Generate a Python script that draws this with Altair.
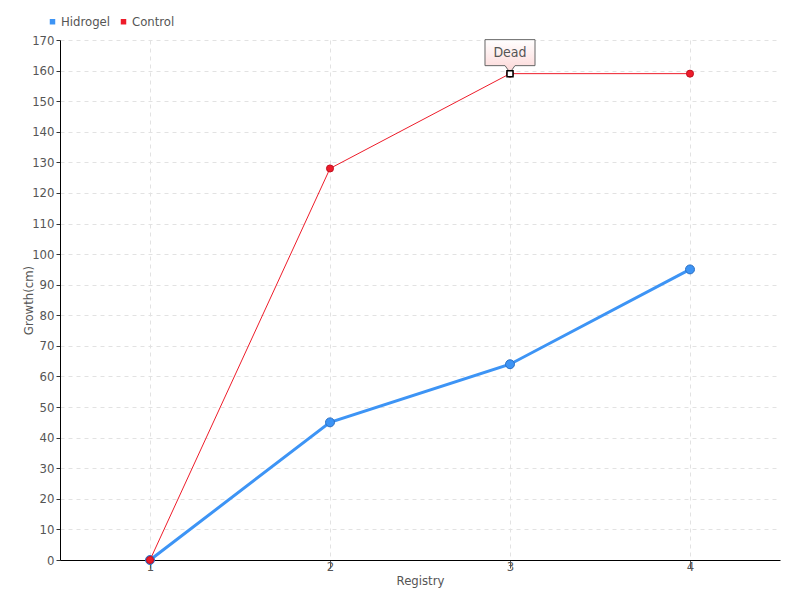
import altair as alt
import pandas as pd

registry = [1, 2, 3, 4]
hidrogel = [0, 45, 64, 95]
control = [0, 128, 159, 159]
series_names = ["Hidrogel", "Control"]
colors = ["#3d94f5", "#ee1c2a"]
y_ticks = list(range(0, 171, 10))
annotation_text = "Dead"
annotation_index = 2

rows = []
for r, v in zip(registry, hidrogel):
    rows.append({"Registry": r, "Growth": v, "Series": "Hidrogel"})
for r, v in zip(registry, control):
    rows.append({"Registry": r, "Growth": v, "Series": "Control"})
df = pd.DataFrame(rows)
ann = pd.DataFrame([{"Registry": registry[annotation_index], "Growth": control[annotation_index], "label": annotation_text}])

FONT = "DejaVu Sans Condensed, Roboto, sans-serif"
x = alt.X("Registry:Q", scale=alt.Scale(domain=[0.5, 4.5], nice=False, zero=False),
          axis=alt.Axis(values=registry, title="Registry", format="d", grid=True,
                        gridColor="#e2e2e2", gridDash=[4, 4], tickSize=8, tickColor="#555",
                        domainColor="#000", labelColor="#555", labelFontSize=13, labelFont=FONT,
                        titleFont=FONT, titleFontSize=13, titleFontWeight="normal", titleColor="#555",
                        titlePadding=1, labelPadding=-8))
y = alt.Y("Growth:Q", scale=alt.Scale(domain=[0, 170], nice=False),
          axis=alt.Axis(values=y_ticks, title="Growth(cm)", grid=True, gridColor="#e2e2e2",
                        gridDash=[4, 4], tickSize=4, tickColor="#333", domainColor="#000",
                        labelColor="#555", labelFontSize=13, labelFont=FONT, titleFont=FONT,
                        titleFontSize=13, titleFontWeight="normal", titleColor="#555",
                        titlePadding=-4, labelPadding=2))
color = alt.Color("Series:N", scale=alt.Scale(domain=series_names, range=colors),
                  legend=alt.Legend(title=None, orient="none", legendX=-14, legendY=-25,
                                    direction="horizontal", symbolType="square", symbolSize=30,
                                    labelFont=FONT, labelFontSize=13, labelColor="#555",
                                    columnPadding=6, symbolStrokeWidth=0, labelOffset=2))

base = alt.Chart(df)
h = base.transform_filter(alt.datum.Series == "Hidrogel")
c = base.transform_filter(alt.datum.Series == "Control")

h_line = h.mark_line(strokeWidth=3, color=colors[0]).encode(x=x, y=y)
h_pts = h.mark_point(filled=True, size=80, stroke="#2a6fc4", strokeWidth=1, opacity=1).encode(
    x=x, y=y, color=color)
c_line = c.mark_line(strokeWidth=1, color=colors[1]).encode(x=x, y=y)
c_pts = c.mark_point(filled=True, size=50, stroke="#c01020", strokeWidth=1, opacity=1).encode(
    x=x, y=y, color=color)

callout_path = "M-0.758,-1 L0.758,-1 L0.758,-0.212 L0.15,-0.212 L0,0 L-0.15,-0.212 L-0.758,-0.212 Z"
callout = alt.Chart(ann).mark_point(
    shape=callout_path, size=4356, filled=True, opacity=1, strokeWidth=1, stroke="#666",
    fill=alt.LinearGradient(gradient="linear", x1=0, x2=0, y1=0, y2=1,
                            stops=[alt.GradientStop(color="#ffffff", offset=0),
                                   alt.GradientStop(color="#fcd6d6", offset=1)]),
    yOffset=-1).encode(x=x, y=y)
sq = alt.Chart(ann).mark_point(shape="square", size=36, filled=True, fill="white", stroke="#000",
                               strokeWidth=1.5, opacity=1).encode(x=x, y=y)
txt = alt.Chart(ann).mark_text(dy=-21, font=FONT, fontSize=14, color="#555").encode(
    x=x, y=y, text="label:N")

chart = alt.layer(h_line, h_pts, c_line, c_pts, callout, sq, txt).properties(
    width=720, height=520,
    autosize=alt.AutoSizeParams(type="none"),
    padding={"left": 52, "top": 32, "right": 12, "bottom": 32},
).configure_view(stroke=None)

chart.save("out.html", embed_options={"renderer": "svg", "actions": False})
